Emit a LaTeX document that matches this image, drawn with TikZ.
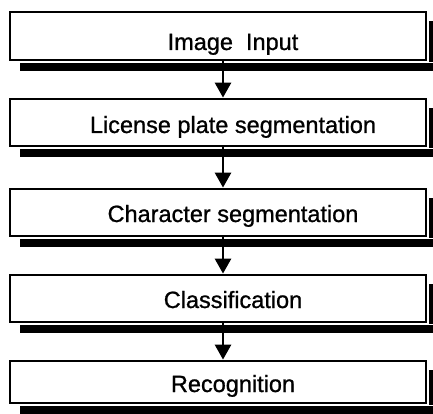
\documentclass[tikz,border=0pt]{standalone}
\usepackage{fontspec}
\setmainfont{Liberation Sans}[FakeBold=0.9]
\usetikzlibrary{arrows.meta}
\begin{document}
\begin{tikzpicture}[x=1pt,y=-1pt,
  stagebox/.style={draw=black, line width=2.8pt, fill=white, rectangle,
    minimum width=416pt, inner sep=0pt},
  stagetext/.style={anchor=base, inner sep=0pt,
    font=\fontsize{23.5}{28}\selectfont},
  flow/.style={line width=2.8pt, -{Triangle[width=16pt,length=15pt]}, shorten <=-1pt}]
  % canvas
  \fill[white] (0,0) rectangle (433,414);
  \useasboundingbox (0,0) rectangle (433,414);
  % stages: name / vertical centre / height / baseline of the label / label
  \foreach \n/\cy/\h/\by/\txt in {
      1/36/48/50/{Image\ \ Input},
      2/122.5/47/133/{License\ plate\ segmentation},
      3/212.5/47/222/{Character\ segmentation},
      4/298.5/47/308/{Classification},
      5/382/42/392/{Recognition}}{
    \node[stagebox, minimum height=\h pt] (b\n) at (218,\cy) {};
    \fill[black] ([xshift=11pt,yshift=-1.4pt]b\n.south west)
      rectangle ([xshift=7pt,yshift=-10pt]b\n.south east);
    \fill[black] ([xshift=1.4pt,yshift=-10pt]b\n.north east)
      rectangle ([xshift=7pt,yshift=-1pt]b\n.south east);
    \node[stagetext] (t\n) at (233,\by) {\txt};
  }
  % connectors
  \foreach \a/\b in {1/2,2/3,3/4,4/5}{
    \draw[flow] ([xshift=5pt]b\a.south) -- ([xshift=5pt]b\b.north);
  }
\end{tikzpicture}
\end{document}
